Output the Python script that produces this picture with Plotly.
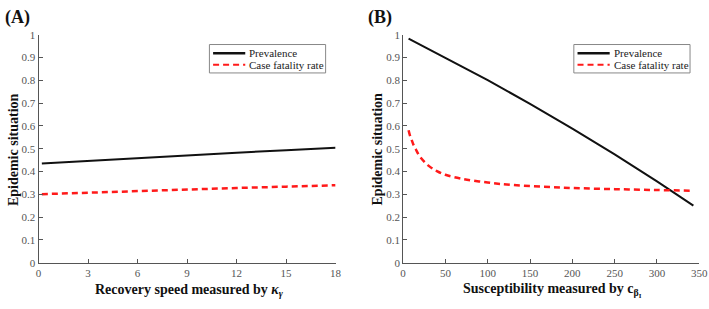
import plotly.graph_objects as go

# Panel A: recovery speed kappa_gamma
a_x = [0.2, 3, 6, 9, 12, 15, 18]
a_prev = [0.435, 0.447, 0.459, 0.471, 0.483, 0.494, 0.505]
a_cfr = [0.301, 0.308, 0.315, 0.321, 0.328, 0.334, 0.340]

# Panel B: susceptibility c_beta_I
b_x_prev = [6.5, 50, 100, 150, 200, 250, 300, 343]
b_prev = [0.983, 0.900, 0.801, 0.697, 0.588, 0.475, 0.357, 0.251]
b_x_cfr = [6.5, 8, 10, 12, 15, 20, 30, 40, 50, 70, 100, 130, 175, 200, 250, 300, 343]
b_cfr = [0.581, 0.560, 0.540, 0.520, 0.498, 0.465, 0.426, 0.402, 0.386, 0.368,
         0.352, 0.341, 0.332, 0.328, 0.323, 0.319, 0.316]

a_xticks = [0, 3, 6, 9, 12, 15, 18]
b_xticks = [0, 50, 100, 150, 200, 250, 300, 350]
y_ticks = [0, 0.1, 0.2, 0.3, 0.4, 0.5, 0.6, 0.7, 0.8, 0.9, 1]
y_ticklabels = ["0", "0.1", "0.2", "0.3", "0.4", "0.5", "0.6", "0.7", "0.8", "0.9", "1"]
legend_names = ["Prevalence", "Case fatality rate"]

SERIF = "Liberation Serif"
PREV_COLOR = "#111111"
CFR_COLOR = "#ff1a1a"
PREV_LINE = dict(color=PREV_COLOR, width=2)
CFR_LINE = dict(color=CFR_COLOR, width=2.5, dash="6px,4px")

W, H = 709, 309
# the captured page shows the paper slightly scaled; compensate placement
SX, SY = 700 / 709, 303 / 309


def px(x):
    return (x / SX) / W


def py(y):
    return 1 - (y / SY) / H


fig = go.Figure()
fig.add_trace(go.Scatter(x=a_x, y=a_prev, mode="lines", name=legend_names[0],
                         line=PREV_LINE, xaxis="x", yaxis="y"))
fig.add_trace(go.Scatter(x=a_x, y=a_cfr, mode="lines", name=legend_names[1],
                         line=CFR_LINE, xaxis="x", yaxis="y"))
fig.add_trace(go.Scatter(x=b_x_prev, y=b_prev, mode="lines", name=legend_names[0],
                         line=PREV_LINE, xaxis="x2", yaxis="y2"))
fig.add_trace(go.Scatter(x=b_x_cfr, y=b_cfr, mode="lines", name=legend_names[1],
                         line=dict(CFR_LINE, shape="spline"), xaxis="x2", yaxis="y2"))

ydom = [py(262), py(29.3)]
axis_common = dict(showgrid=False, zeroline=False, showline=True, linecolor="#555",
                   linewidth=1, ticks="inside", ticklen=4, tickcolor="#555",
                   tickfont=dict(family=SERIF, size=11, color="#555"), mirror=False,
                   ticklabeloverflow="allow")

fig.update_layout(
    width=W, height=H,
    margin=dict(l=0, r=0, t=0, b=0),
    paper_bgcolor="white", plot_bgcolor="white",
    font=dict(family=SERIF),
    showlegend=False,
    xaxis=dict(domain=[px(35.7), px(334)], range=[0, 18], tickvals=a_xticks,
               anchor="y", **axis_common),
    yaxis=dict(domain=ydom, range=[0, 1], tickvals=y_ticks, ticktext=y_ticklabels,
               anchor="x", **axis_common),
    xaxis2=dict(domain=[px(401.8), min(px(699.3), 1)], range=[0, 350], tickvals=b_xticks,
                anchor="y2", **axis_common),
    yaxis2=dict(domain=ydom, range=[0, 1], tickvals=y_ticks, ticktext=y_ticklabels,
                anchor="x2", **axis_common),
)

shapes = []
ann = []

for left in (207.3, 573.3):
    shapes.append(dict(type="rect", xref="paper", yref="paper",
                       x0=px(left), x1=px(left + 116.7), y0=py(39.3), y1=py(68.3),
                       line=dict(color="#888", width=1), fillcolor="white", layer="above"))
    shapes.append(dict(type="line", xref="paper", yref="paper",
                       x0=px(left + 3.7), x1=px(left + 36), y0=py(48.3), y1=py(48.3),
                       line=dict(color=PREV_COLOR, width=2.5), layer="above"))
    shapes.append(dict(type="line", xref="paper", yref="paper",
                       x0=px(left + 3.7), x1=px(left + 36), y0=py(60), y1=py(60),
                       line=dict(color=CFR_COLOR, width=2, dash="6px,4px"), layer="above"))
    for name, yy in zip(legend_names, (48.3, 60)):
        ann.append(dict(text=name, x=px(left + 38), y=py(yy), xanchor="left",
                        yanchor="middle", font=dict(size=11, color="#222")))

ann += [
    dict(text="<b>(A)</b>", x=px(0), y=py(12), xanchor="left", yanchor="middle",
         font=dict(size=18, color="#111")),
    dict(text="<b>(B)</b>", x=px(365), y=py(12), xanchor="left", yanchor="middle",
         font=dict(size=18, color="#111")),
    dict(text="<b>Epidemic situation</b>", x=px(10), y=py(146), textangle=-90,
         xanchor="center", yanchor="middle", font=dict(size=14, color="#111")),
    dict(text="<b>Epidemic situation</b>", x=px(376), y=py(146), textangle=-90,
         xanchor="center", yanchor="middle", font=dict(size=14, color="#111")),
    dict(text="<b>Recovery speed measured by <i>κ</i><sub><i>γ</i></sub></b>",
         x=px(187), y=py(290), xanchor="center", yanchor="middle",
         font=dict(size=14, color="#111")),
    dict(text="<b>Susceptibility measured by c<sub>β<sub>I</sub></sub></b>",
         x=px(552), y=py(290), xanchor="center", yanchor="middle",
         font=dict(size=14, color="#111")),
]
for a in ann:
    a.update(xref="paper", yref="paper", showarrow=False)
    a["font"]["family"] = SERIF
fig.update_layout(annotations=ann, shapes=shapes)

css_js = (
    "var s=document.createElement('style');"
    "s.innerHTML='html,body{margin:0 !important;padding:0 !important;overflow:hidden;}';"
    "document.head.appendChild(s);"
)

fig.write_html(
    "out.html",
    config={"displayModeBar": False, "responsive": False},
    post_script=css_js,
)
